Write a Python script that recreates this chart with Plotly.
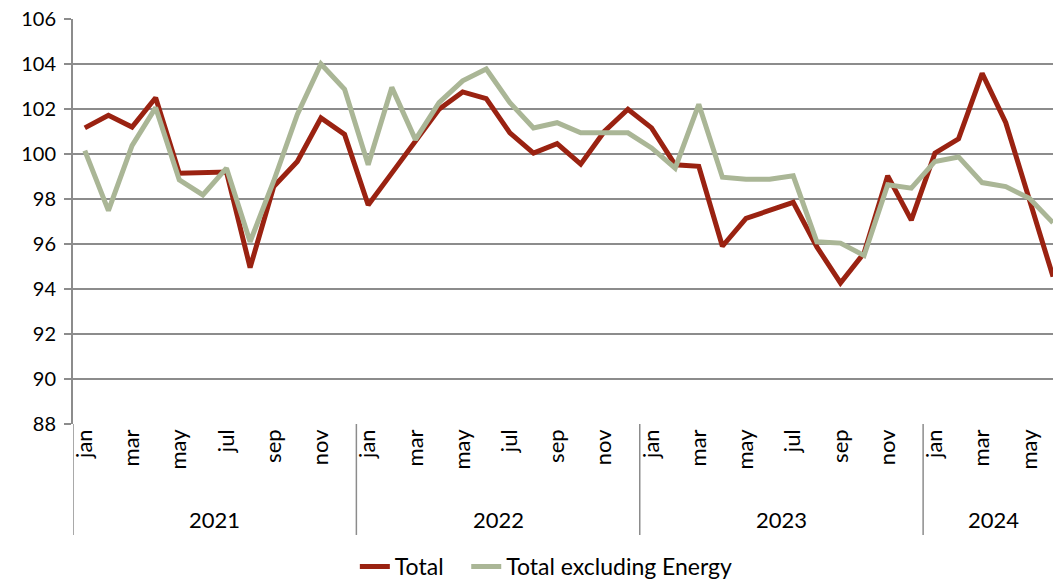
import plotly.graph_objects as go

months = ["jan","feb","mar","apr","may","jun","jul","aug","sep","oct","nov","dec"]
years = ["2021", "2022", "2023", "2024"]
months_per_year = [12, 12, 12, 6]

total = [101.16, 101.72, 101.2, 102.5, 99.15, 99.15, 99.2, 94.95, 98.55, 99.67, 101.6, 100.87,
         97.73, 99.15, 100.57, 101.99, 102.76, 102.46, 100.94, 100.04, 100.46, 99.55, 101.0, 101.99,
         101.16, 99.52, 99.45, 95.9, 97.14, 97.5, 97.85, 95.87, 94.27, 95.6, 99.03, 97.06,
         100.04, 100.67, 103.58, 101.39, 97.96, 94.55]
total_ex_energy = [100.15, 97.48, 100.37, 102.06, 98.85, 98.18, 99.37, 96.1, 98.8, 101.76, 104.0, 102.88,
                   99.52, 102.96, 100.64, 102.28, 103.25, 103.78, 102.28, 101.16, 101.39, 100.94, 100.94, 100.94,
                   100.27, 99.37, 102.21, 98.97, 98.88, 98.88, 99.03, 96.1, 96.04, 95.49, 98.63, 98.48,
                   99.67, 99.87, 98.73, 98.55, 98.03, 96.94]
y_ticks = [88, 90, 92, 94, 96, 98, 100, 102, 104, 106]

month_labels = []
for n in months_per_year:
    month_labels += months[:n]
x = list(range(len(month_labels)))

font = "Lato, 'Open Sans', sans-serif"
fig = go.Figure()
fig.add_trace(go.Scatter(x=x, y=total, mode="lines", name="Total\u00a0\u00a0\u00a0",
                         line=dict(color="#9A2211", width=5)))
fig.add_trace(go.Scatter(x=x, y=total_ex_energy, mode="lines", name="Total excluding Energy",
                         line=dict(color="#AAB696", width=5)))

tickvals = [i for i in x if i % 2 == 0]
ticktext = [month_labels[i] for i in tickvals]

sep_bottom = -0.274
shapes = []
annotations = []
start = 0
for yr, n in zip(years, months_per_year):
    shapes.append(dict(type="line", xref="x", yref="paper", x0=start - 0.5, x1=start - 0.5,
                       y0=0, y1=sep_bottom, line=dict(color="#8c8c8c", width=1.5)))
    annotations.append(dict(text=yr, xref="x", yref="paper", x=start + (n - 1) / 2, y=-0.237,
                            showarrow=False, font=dict(size=22, color="#000000", family=font),
                            yanchor="middle"))
    start += n

fig.update_layout(
    width=1053, height=586,
    margin=dict(l=73, r=0, t=19, b=162, autoexpand=False),
    paper_bgcolor="white", plot_bgcolor="white",
    font=dict(family=font, size=20, color="#000000"),
    shapes=shapes, annotations=annotations,
    legend=dict(orientation="h", x=0.483, xanchor="center", y=-0.352, yanchor="middle",
                font=dict(size=23, family=font), tracegroupgap=0),
    showlegend=True,
)
fig.update_xaxes(range=[-0.5, 41.0], tickmode="array", tickvals=tickvals, ticktext=ticktext,
                 tickangle=-90, showgrid=False, zeroline=False, showline=False, ticks="",
                 tickfont=dict(size=22), automargin=False)
fig.update_yaxes(range=[88, 106], tickvals=y_ticks, showgrid=True, gridcolor="#8c8c8c", gridwidth=2,
                 zeroline=False, showline=True, linecolor="#8c8c8c", linewidth=2,
                 ticks="outside", ticklen=7, tickcolor="#8c8c8c", tickwidth=2,
                 tickfont=dict(size=20), automargin=False, ticklabelstandoff=4)

fig.write_html("out.html", config={"displayModeBar": False},
               post_script="document.body.style.margin='0';document.body.style.overflow='hidden';")
